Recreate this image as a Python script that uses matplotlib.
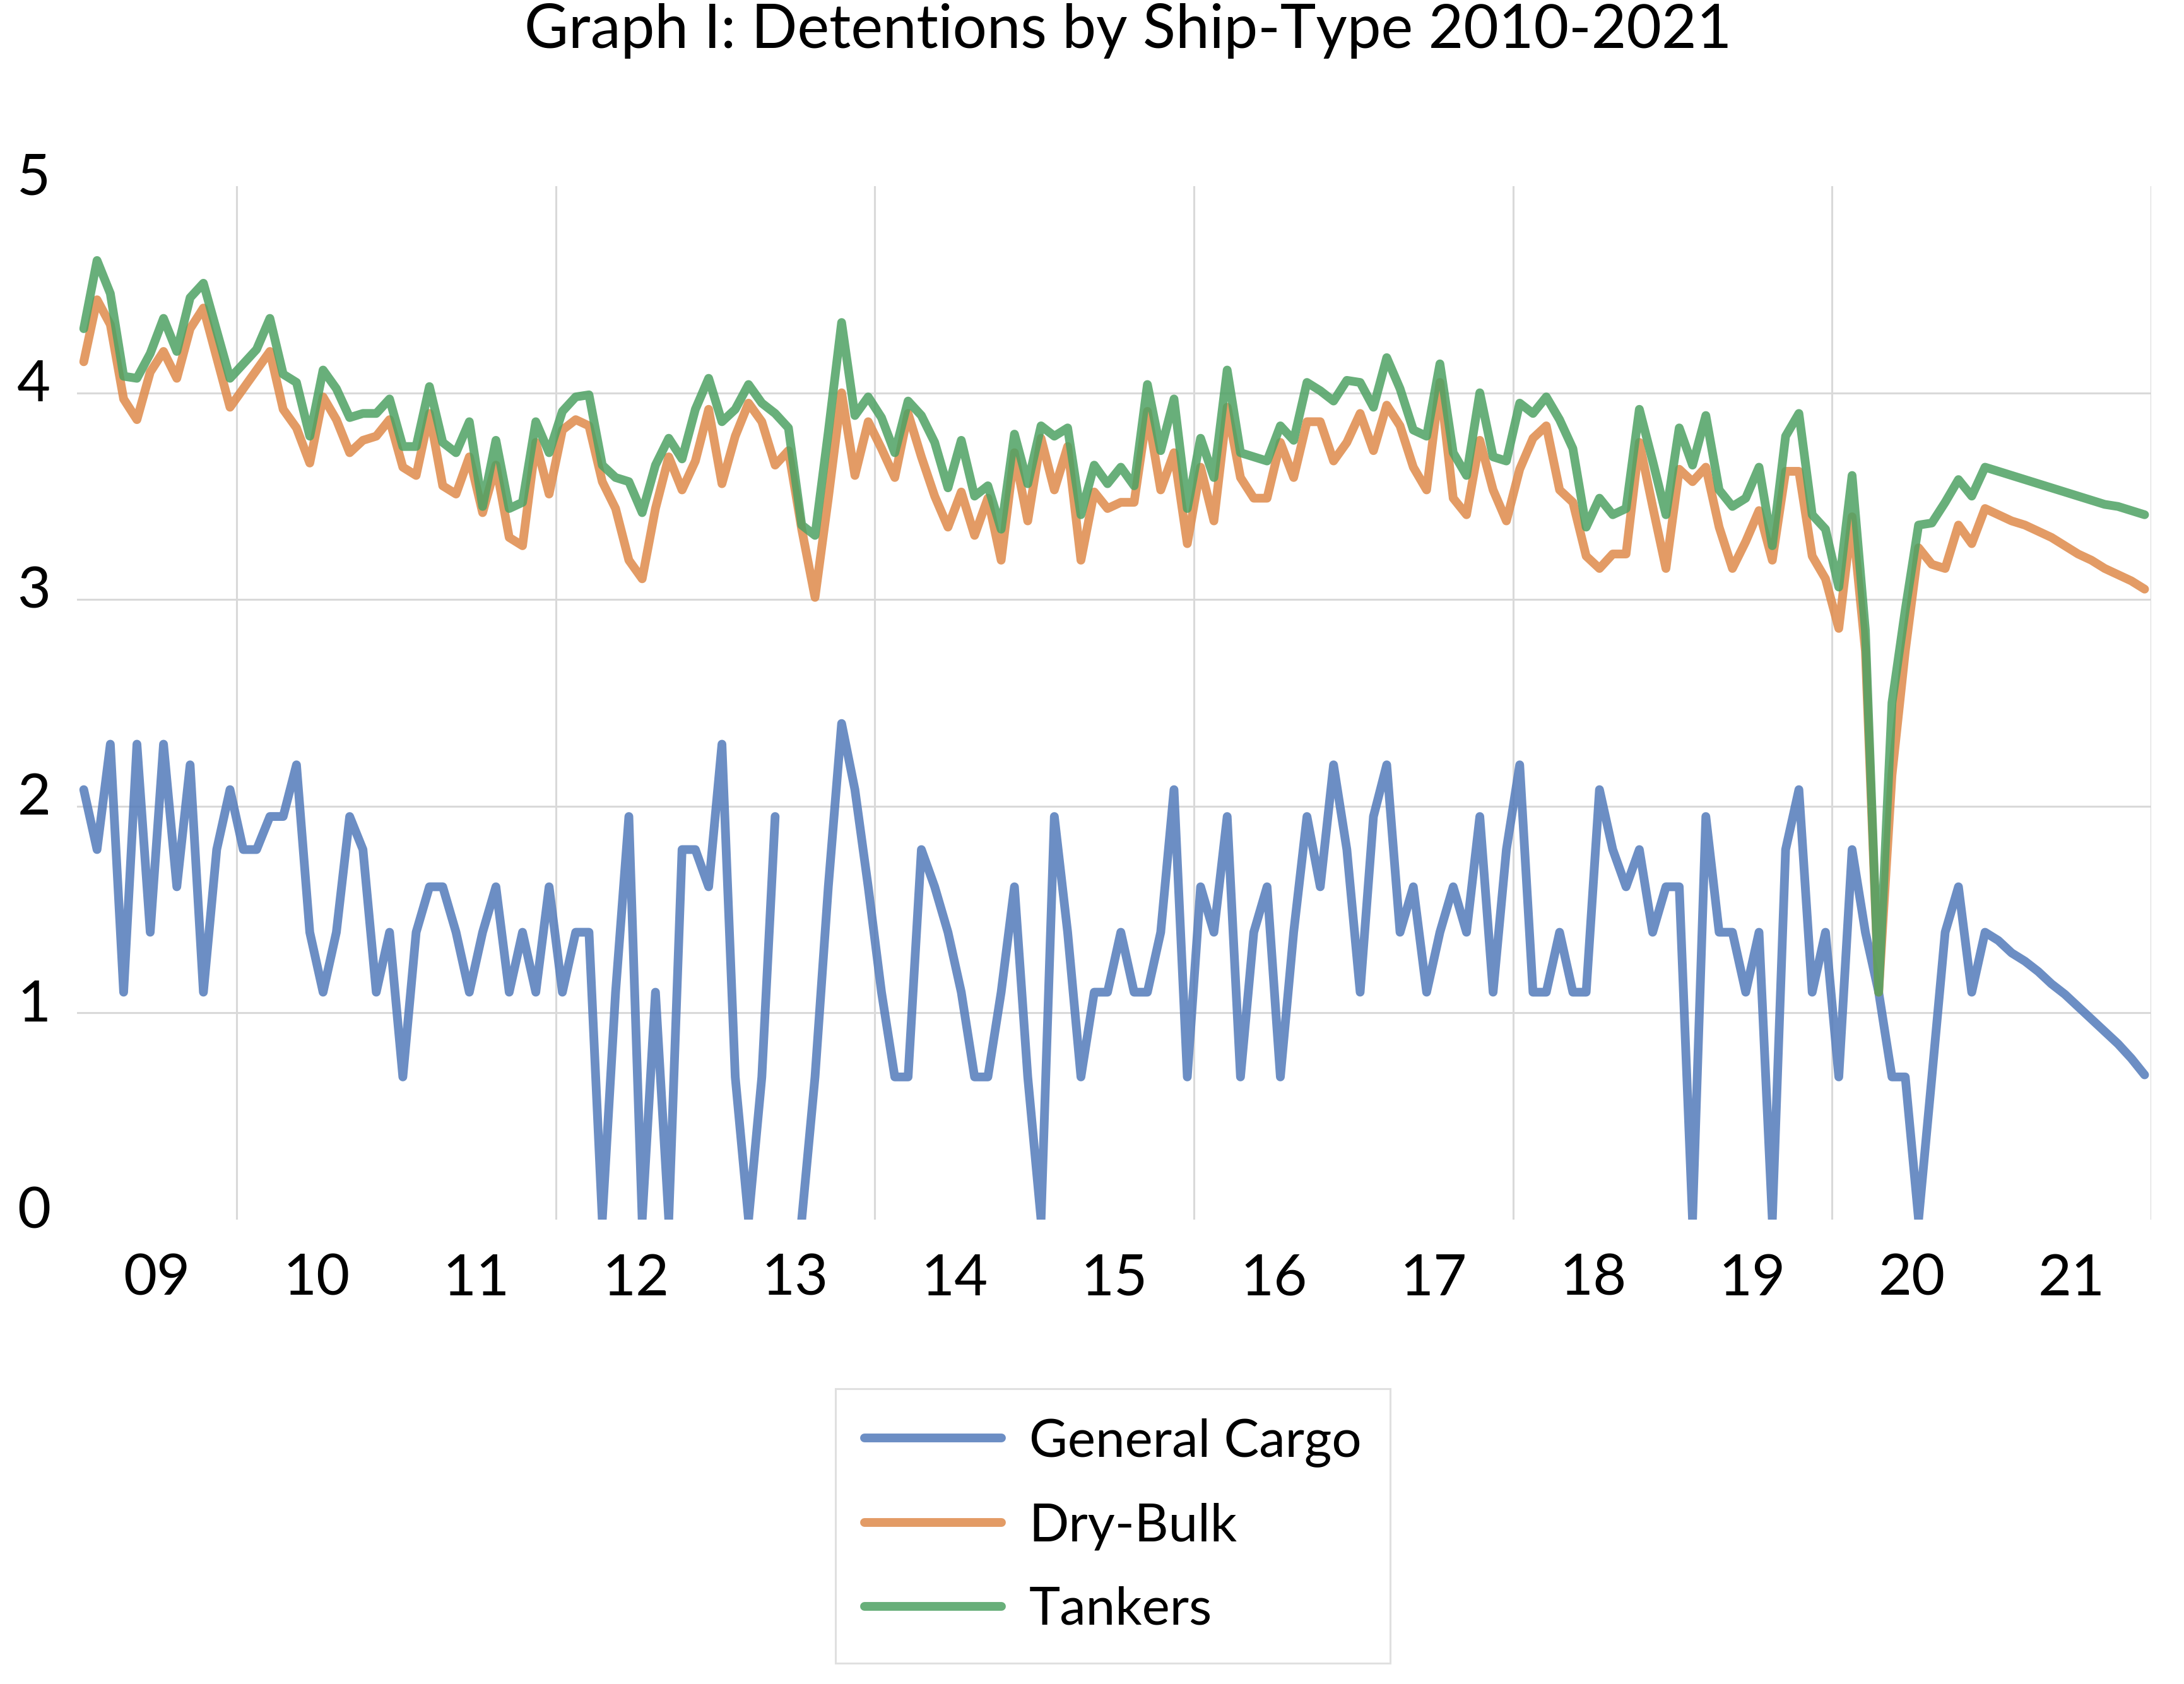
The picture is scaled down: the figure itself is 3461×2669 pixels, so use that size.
import numpy as np
import matplotlib.pyplot as plt
from matplotlib.transforms import ScaledTranslation

# monthly values, Jan 2009 - Dec 2021
year_labels = ['09', '10', '11', '12', '13', '14', '15', '16', '17', '18', '19', '20', '21']

general_cargo = [
    2.08, 1.79, 2.30, 1.10, 2.30, 1.39, 2.30, 1.61, 2.20, 1.10, 1.79, 2.08,
    1.79, 1.79, 1.95, 1.95, 2.20, 1.39, 1.10, 1.39, 1.95, 1.79, 1.10, 1.39,
    0.69, 1.39, 1.61, 1.61, 1.39, 1.10, 1.39, 1.61, 1.10, 1.39, 1.10, 1.61,
    1.10, 1.39, 1.39, 0.00, 1.10, 1.95, 0.00, 1.10, 0.00, 1.79, 1.79, 1.61,
    2.30, 0.69, 0.00, 0.69, 1.95, np.nan, 0.00, 0.69, 1.61, 2.40, 2.08, 1.61,
    1.10, 0.69, 0.69, 1.79, 1.61, 1.39, 1.10, 0.69, 0.69, 1.10, 1.61, 0.69,
    0.00, 1.95, 1.39, 0.69, 1.10, 1.10, 1.39, 1.10, 1.10, 1.39, 2.08, 0.69,
    1.61, 1.39, 1.95, 0.69, 1.39, 1.61, 0.69, 1.39, 1.95, 1.61, 2.20, 1.79,
    1.10, 1.95, 2.20, 1.39, 1.61, 1.10, 1.39, 1.61, 1.39, 1.95, 1.10, 1.79,
    2.20, 1.10, 1.10, 1.39, 1.10, 1.10, 2.08, 1.79, 1.61, 1.79, 1.39, 1.61,
    1.61, 0.00, 1.95, 1.39, 1.39, 1.10, 1.39, 0.00, 1.79, 2.08, 1.10, 1.39,
    0.69, 1.79, 1.39, 1.10, 0.69, 0.69, 0.00, 0.69, 1.39, 1.61, 1.10, 1.39,
    1.35, 1.29, 1.25, 1.20, 1.14, 1.09, 1.03, 0.97, 0.91, 0.85, 0.78, 0.70,
]

dry_bulk = [
    4.15, 4.45, 4.33, 3.97, 3.87, 4.10, 4.20, 4.07, 4.31, 4.41, 4.17, 3.93,
    4.02, 4.11, 4.20, 3.92, 3.83, 3.66, 3.98, 3.87, 3.71, 3.77, 3.79, 3.87,
    3.64, 3.60, 3.90, 3.55, 3.51, 3.69, 3.42, 3.65, 3.30, 3.26, 3.76, 3.51,
    3.82, 3.87, 3.84, 3.57, 3.44, 3.19, 3.10, 3.44, 3.69, 3.53, 3.67, 3.92,
    3.56, 3.79, 3.95, 3.86, 3.65, 3.72, 3.34, 3.01, 3.49, 4.00, 3.60, 3.86,
    3.73, 3.59, 3.90, 3.69, 3.50, 3.35, 3.52, 3.31, 3.49, 3.19, 3.71, 3.38,
    3.78, 3.53, 3.74, 3.19, 3.52, 3.44, 3.47, 3.47, 3.91, 3.53, 3.71, 3.27,
    3.64, 3.38, 3.93, 3.59, 3.49, 3.49, 3.76, 3.59, 3.86, 3.86, 3.67, 3.76,
    3.90, 3.72, 3.94, 3.84, 3.64, 3.53, 4.05, 3.49, 3.41, 3.77, 3.53, 3.38,
    3.63, 3.78, 3.84, 3.53, 3.47, 3.21, 3.15, 3.22, 3.22, 3.76, 3.45, 3.15,
    3.63, 3.57, 3.64, 3.35, 3.15, 3.28, 3.43, 3.19, 3.62, 3.62, 3.21, 3.10,
    2.86, 3.40, 2.75, 1.10, 2.15, 2.75, 3.25, 3.17, 3.15, 3.36, 3.27, 3.44,
    3.41, 3.38, 3.36, 3.33, 3.30, 3.26, 3.22, 3.19, 3.15, 3.12, 3.09, 3.05,
]

tankers = [
    4.31, 4.64, 4.48, 4.08, 4.07, 4.19, 4.36, 4.20, 4.46, 4.53, 4.30, 4.07,
    4.14, 4.21, 4.36, 4.09, 4.05, 3.79, 4.11, 4.02, 3.88, 3.90, 3.90, 3.97,
    3.74, 3.74, 4.03, 3.76, 3.71, 3.86, 3.45, 3.77, 3.44, 3.47, 3.86, 3.71,
    3.91, 3.98, 3.99, 3.65, 3.59, 3.57, 3.42, 3.65, 3.78, 3.68, 3.92, 4.07,
    3.86, 3.92, 4.04, 3.95, 3.90, 3.83, 3.36, 3.31, 3.81, 4.34, 3.89, 3.98,
    3.88, 3.71, 3.96, 3.89, 3.76, 3.54, 3.77, 3.50, 3.55, 3.34, 3.80, 3.56,
    3.84, 3.79, 3.83, 3.41, 3.65, 3.56, 3.64, 3.55, 4.04, 3.72, 3.97, 3.44,
    3.78, 3.59, 4.11, 3.71, 3.69, 3.67, 3.84, 3.77, 4.05, 4.01, 3.96, 4.06,
    4.05, 3.93, 4.17, 4.02, 3.82, 3.79, 4.14, 3.71, 3.60, 4.00, 3.69, 3.67,
    3.95, 3.90, 3.98, 3.87, 3.73, 3.35, 3.49, 3.41, 3.44, 3.92, 3.67, 3.41,
    3.83, 3.65, 3.89, 3.53, 3.45, 3.49, 3.64, 3.26, 3.79, 3.90, 3.41, 3.34,
    3.06, 3.60, 2.85, 1.10, 2.50, 2.95, 3.36, 3.37, 3.47, 3.58, 3.50, 3.64,
    3.62, 3.60, 3.58, 3.56, 3.54, 3.52, 3.50, 3.48, 3.46, 3.45, 3.43, 3.41,
]

plt.rcParams['font.family'] = ['Lato', 'DejaVu Sans']

fig = plt.figure(figsize=(34.61, 26.69), dpi=100)
ax = fig.add_axes([0.0353, 0.2758, 0.9497, 0.6137])

x = np.arange(len(tankers))
lw = 10
ax.plot(x, general_cargo, color=(0.32, 0.48, 0.73, 0.85), lw=lw,
        solid_joinstyle='round', solid_capstyle='round', label='General Cargo')
ax.plot(x, dry_bulk, color=(0.87, 0.54, 0.29, 0.85), lw=lw,
        solid_joinstyle='round', solid_capstyle='round', label='Dry-Bulk')
ax.plot(x, tankers, color=(0.30, 0.63, 0.39, 0.85), lw=lw,
        solid_joinstyle='round', solid_capstyle='round', label='Tankers')

ax.set_xlim(-0.5, len(tankers) - 0.5)
ax.set_ylim(0, 5)

ax.set_xticks(np.arange(len(year_labels)) * 12 + 5.5)
ax.set_xticklabels(year_labels)
ax.set_xticks(np.arange(11.5, len(tankers), 24), minor=True)
ax.set_yticks(range(6))

ax.grid(axis='y', which='major', color='#D9D9D9', lw=2.2)
ax.grid(axis='x', which='minor', color='#D9D9D9', lw=2.2)
gl = ax.get_ygridlines()
gl[0].set_visible(False)
gl[-1].set_visible(False)
ax.set_axisbelow(True)

ax.tick_params(which='both', length=0)
ax.tick_params(axis='y', labelsize=66, pad=30, colors='#000000')
ax.tick_params(axis='x', labelsize=66, pad=38, colors='#000000')
# Excel sits the value labels a little above their gridlines
up = ScaledTranslation(0, 0.2, fig.dpi_scale_trans)
for lab in ax.get_yticklabels():
    lab.set_transform(lab.get_transform() + up)
for s in ax.spines.values():
    s.set_visible(False)

fig.text(0.5166, 0.9816, 'Graph I: Detentions by Ship-Type 2010-2021',
         ha='center', va='center', fontsize=69)

leg = fig.legend(loc='upper left', bbox_to_anchor=(0.3826, 0.1754),
                 fontsize=60, frameon=True, fancybox=False, edgecolor='#D9D9D9',
                 handlelength=2.6, handletextpad=0.53, labelspacing=0.68,
                 borderpad=0.55, borderaxespad=0)
leg.get_frame().set_linewidth(2.2)

fig.savefig('out.png', dpi=100, facecolor='white')
